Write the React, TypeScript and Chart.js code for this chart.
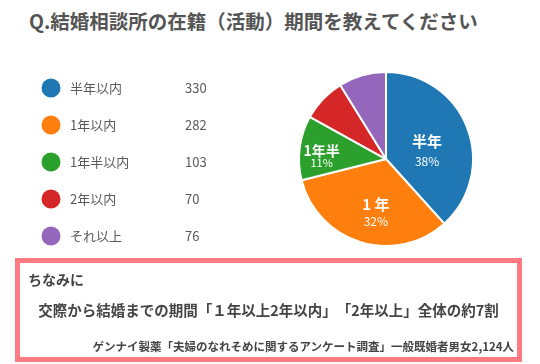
import React, { useEffect, useRef } from "react";
import { Chart, registerables } from "chart.js";

Chart.register(...registerables);

const categories = ["半年以内", "1年以内", "1年半以内", "2年以内", "それ以上"];
const counts = [330, 282, 103, 70, 76];
const colors = ["#1f77b4", "#ff7f0e", "#2ca02c", "#d62728", "#9467bd"];
const sliceNames = ["半年", "1 年", "1年半", "", ""];
const slicePercents = ["38%", "32%", "11%", "", ""];

const TITLE = "Q.結婚相談所の在籍（活動）期間を教えてください";
const NOTE_HEAD = "ちなみに";
const NOTE_MAIN = "交際から結婚までの期間「１年以上2年以内」「2年以上」全体の約7割";
const NOTE_SOURCE = "ゲンナイ製薬「夫婦のなれそめに関するアンケート調査」一般既婚者男女2,124人";

const FONT = "'Noto Sans CJK JP', 'Noto Sans', sans-serif";

// label placement style per slice (relative to each arc's geometry)
const labelStyle = [
  { shiftDeg: 11, frac: 0.48, gap: 20, nameSize: 15, pctSize: 12 },
  { shiftDeg: -6.3, frac: 0.63, gap: 17, nameSize: 15, pctSize: 12 },
  { shiftDeg: -5.5, frac: 0.74, gap: 12, nameSize: 14, pctSize: 11 },
];

const legendPlugin = {
  id: "sideLegend",
  afterDraw(chart: any) {
    const ctx = chart.ctx;
    ctx.save();
    categories.forEach((c, i) => {
      const y = 88 + i * 37;
      ctx.beginPath();
      ctx.arc(51, y, 9.5, 0, Math.PI * 2);
      ctx.fillStyle = colors[i];
      ctx.fill();
      ctx.fillStyle = "#595959";
      ctx.font = `13px ${FONT}`;
      ctx.textBaseline = "middle";
      ctx.textAlign = "left";
      ctx.fillText(c, 70, y);
      ctx.fillText(String(counts[i]), 185, y);
    });
    ctx.restore();
  },
};

const sliceLabelPlugin = {
  id: "sliceLabels",
  afterDatasetsDraw(chart: any) {
    const ctx = chart.ctx;
    const meta = chart.getDatasetMeta(0);
    ctx.save();
    ctx.fillStyle = "#ffffff";
    ctx.textAlign = "center";
    ctx.textBaseline = "middle";
    meta.data.forEach((arc: any, i: number) => {
      if (!sliceNames[i]) return;
      const st = labelStyle[i];
      const mid = (arc.startAngle + arc.endAngle) / 2 + (st.shiftDeg * Math.PI) / 180;
      const r = arc.outerRadius * st.frac;
      const x = arc.x + Math.cos(mid) * r;
      const y = arc.y + Math.sin(mid) * r;
      ctx.font = `bold ${st.nameSize}px ${FONT}`;
      ctx.fillText(sliceNames[i], x, y - st.gap / 2);
      ctx.font = `${st.pctSize}px ${FONT}`;
      ctx.fillText(slicePercents[i], x, y + st.gap / 2);
    });
    ctx.restore();
  },
};

export default function App() {
  const ref = useRef<HTMLCanvasElement>(null);
  useEffect(() => {
    if (!ref.current) return;
    const chart = new Chart(ref.current, {
      type: "pie",
      data: {
        labels: categories,
        datasets: [
          {
            data: counts,
            backgroundColor: colors,
            borderColor: "#ffffff",
            borderWidth: 2,
          },
        ],
      },
      options: {
        responsive: false,
        maintainAspectRatio: false,
        animation: false,
        layout: { padding: { left: 298, right: 66, top: 71, bottom: 117 } },
        plugins: {
          legend: { display: false },
          tooltip: { enabled: false },
          title: { display: false },
        },
      },
      plugins: [legendPlugin, sliceLabelPlugin],
    });
    return () => chart.destroy();
  }, []);

  return (
    <div
      style={{
        position: "absolute",
        left: 0,
        top: 0,
        width: 540,
        height: 364,
        background: "#ffffff",
        fontFamily: FONT,
        overflow: "hidden",
      }}
    >
      <div
        style={{
          position: "absolute",
          left: 29,
          top: 8,
          fontSize: 19.5,
          fontWeight: 700,
          color: "#555555",
          lineHeight: "26px",
          whiteSpace: "nowrap",
        }}
      >
        {TITLE}
      </div>
      <canvas
        ref={ref}
        width={540}
        height={364}
        style={{ position: "absolute", left: 0, top: 0 }}
      />
      <div
        style={{
          position: "absolute",
          left: 15,
          top: 258,
          width: 507,
          height: 104,
          border: "5px solid #ff7b81",
          boxSizing: "border-box",
          color: "#444444",
          fontWeight: 700,
        }}
      >
        <div
          style={{
            position: "absolute",
            left: 8,
            top: 6,
            fontSize: 14,
            lineHeight: "20px",
            whiteSpace: "nowrap",
          }}
        >
          {NOTE_HEAD}
        </div>
        <div
          style={{
            position: "absolute",
            left: 0,
            right: 0,
            top: 37,
            fontSize: 14.5,
            lineHeight: "20px",
            textAlign: "center",
            whiteSpace: "nowrap",
            ["textSpacingTrim" as any]: "space-all",
          } as any}
        >
          {NOTE_MAIN}
        </div>
        <div
          style={{
            position: "absolute",
            right: 3,
            top: 75,
            fontSize: 11.5,
            lineHeight: "16px",
            textAlign: "right",
            whiteSpace: "nowrap",
            ["textSpacingTrim" as any]: "space-all",
          } as any}
        >
          {NOTE_SOURCE}
        </div>
      </div>
    </div>
  );
}
